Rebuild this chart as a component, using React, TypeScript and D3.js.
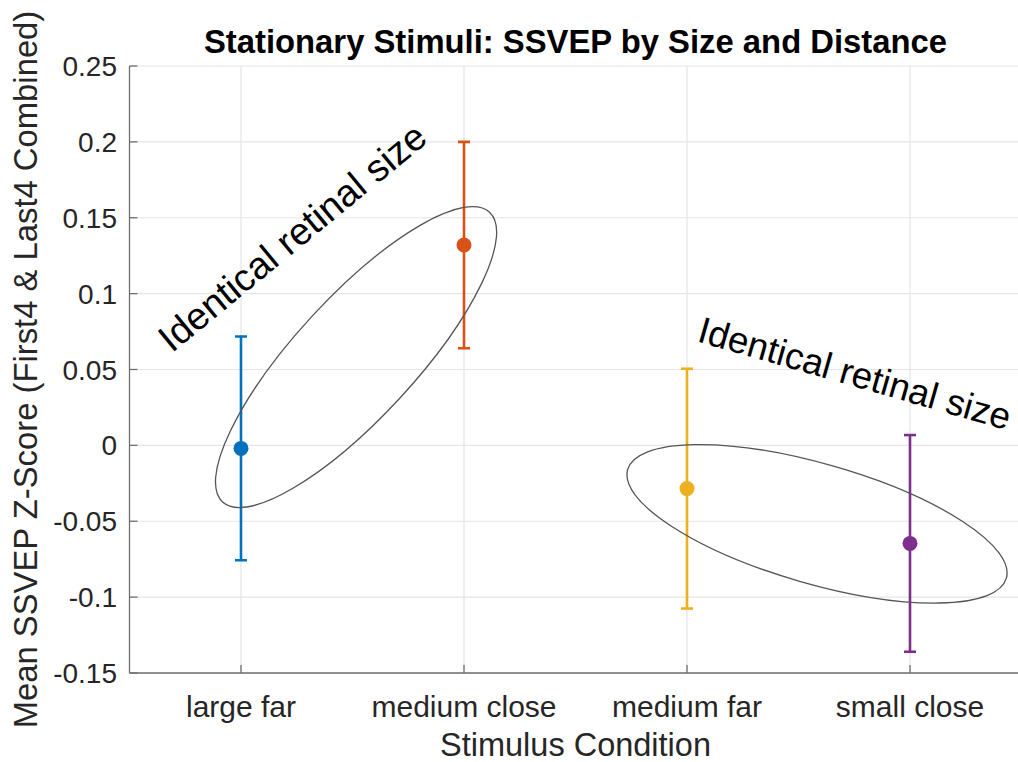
import React from "react";
import * as d3 from "d3";

// Stimulus conditions and their mean SSVEP z-scores with error half-widths
const categories = ["large far", "medium close", "medium far", "small close"];
const means = [-0.002, 0.132, -0.0285, -0.0646];
const errors = [0.0737, 0.068, 0.079, 0.0714];
const colors = ["#0072BD", "#D95319", "#EDB120", "#7E2F8E"];

const yTicks = [-0.15, -0.1, -0.05, 0, 0.05, 0.1, 0.15, 0.2, 0.25];

// Ellipses grouping conditions of identical retinal size (centre in data units)
const ellipseCx = [1.516, 3.583];
const ellipseCy = [0.0582, -0.0517];
const ellipseAngle = [-47.35, 16];

// Rotated annotation labels (baseline start in data units)
const noteText = ["Identical retinal size", "Identical retinal size"];
const noteX = [0.69, 3.04];
const noteY = [0.0605, 0.0687];
const noteAngle = [-39.5, 16];
const noteSize = [38, 36.8];

const W = 1018;
const H = 762;
const left = 129.5;
const right = 1021.5;
const top = 66;
const bottom = 673;

const FONT = "'Liberation Sans', Arial, Helvetica, sans-serif";

export default function App() {
  const x = d3.scaleLinear().domain([0.5, 4.5]).range([left, right]);
  const y = d3.scaleLinear().domain([-0.15, 0.25]).range([bottom, top]);
  const xs = categories.map((_, i) => i + 1);
  const fmt = (v: number) => String(+v.toFixed(2));

  return (
    <svg
      width={W}
      height={H}
      style={{ position: "absolute", left: 0, top: 0, background: "#fff" }}
      fontFamily={FONT}
    >
      <defs>
        <clipPath id="plotClip">
          <rect x={left} y={top} width={W - left} height={bottom - top} />
        </clipPath>
      </defs>

      {/* grid */}
      <g stroke="#e5e5e5" strokeWidth={1.2}>
        {yTicks.map((t) => (
          <line key={"gy" + t} x1={left} x2={W} y1={y(t)} y2={y(t)} />
        ))}
        {xs.map((v) => (
          <line key={"gx" + v} x1={x(v)} x2={x(v)} y1={top} y2={bottom} />
        ))}
      </g>

      {/* axes */}
      <g stroke="#6f6f6f" strokeWidth={1.3} fill="none">
        <line x1={left} x2={left} y1={top} y2={bottom} />
        <line x1={left} x2={W} y1={bottom} y2={bottom} />
        {yTicks.map((t) => (
          <line key={"ty" + t} x1={left} x2={left + 8} y1={y(t)} y2={y(t)} />
        ))}
        {xs.map((v) => (
          <line key={"tx" + v} x1={x(v)} x2={x(v)} y1={bottom} y2={bottom - 8} />
        ))}
      </g>

      {/* y tick labels */}
      <g fill="#262626" fontSize={28} textAnchor="end">
        {yTicks.map((t) => (
          <text key={"ly" + t} x={117} y={y(t)} dy="0.36em">
            {fmt(t)}
          </text>
        ))}
      </g>

      {/* x tick labels */}
      <g fill="#262626" fontSize={30} textAnchor="middle">
        {categories.map((c, i) => (
          <text key={c} x={x(xs[i])} y={bottom + 44}>
            {c}
          </text>
        ))}
      </g>

      {/* error bars and means */}
      <g clipPath="url(#plotClip)">
        {categories.map((c, i) => {
          const cx = x(xs[i]);
          const hi = y(means[i] + errors[i]);
          const lo = y(means[i] - errors[i]);
          return (
            <g key={"eb" + c} stroke={colors[i]} strokeWidth={2.6}>
              <line x1={cx} x2={cx} y1={hi} y2={lo} />
              <line x1={cx - 6} x2={cx + 6} y1={hi} y2={hi} />
              <line x1={cx - 6} x2={cx + 6} y1={lo} y2={lo} />
              <circle cx={cx} cy={y(means[i])} r={7.5} fill={colors[i]} stroke="none" />
            </g>
          );
        })}

        {/* grouping ellipses */}
        {ellipseCx.map((ex, i) => (
          <ellipse
            key={"el" + i}
            cx={0}
            cy={0}
            rx={197}
            ry={60}
            fill="none"
            stroke="#555"
            strokeWidth={1.3}
            transform={`translate(${x(ex)},${y(ellipseCy[i])}) rotate(${ellipseAngle[i]})`}
          />
        ))}
      </g>

      {/* annotations */}
      <g fill="#000">
        {noteText.map((t, i) => (
          <text
            key={"nt" + i}
            fontSize={noteSize[i]}
            transform={`translate(${x(noteX[i])},${y(noteY[i])}) rotate(${noteAngle[i]})`}
          >
            {t}
          </text>
        ))}
      </g>

      {/* title and axis labels */}
      <text
        x={(left + right) / 2}
        y={53}
        textAnchor="middle"
        fontSize={32.8}
        fontWeight="bold"
        fill="#000"
      >
        Stationary Stimuli: SSVEP by Size and Distance
      </text>
      <text x={(left + right) / 2} y={756} textAnchor="middle" fontSize={32.5} fill="#262626">
        Stimulus Condition
      </text>
      <text
        transform={`translate(37,${(top + bottom) / 2}) rotate(-90)`}
        textAnchor="middle"
        fontSize={32.8}
        fill="#262626"
      >
        Mean SSVEP Z-Score (First4 &amp; Last4 Combined)
      </text>
    </svg>
  );
}
